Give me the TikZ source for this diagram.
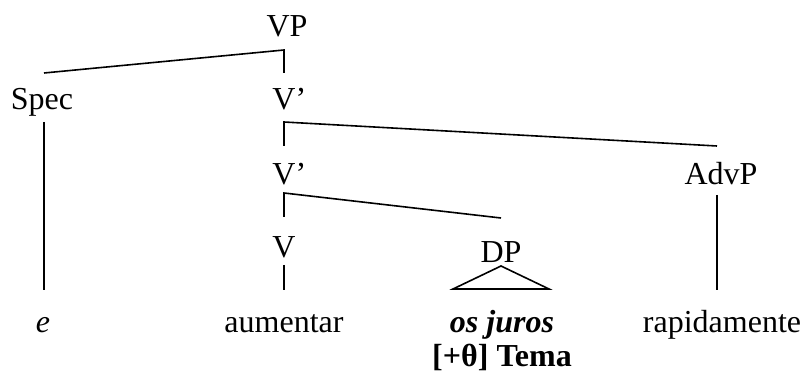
\documentclass[tikz,border=0pt]{standalone}
\usepackage{fontspec}
\setmainfont{Liberation Serif}
\begin{document}
\begin{tikzpicture}[x=1pt,y=-1pt,
  lbl/.style={anchor=base,inner sep=0pt,font=\fontsize{32}{38}\selectfont},
  edge/.style={line width=1.6pt,line cap=butt,line join=miter}]
\useasboundingbox (0,0) rectangle (809,374);
% nodes
\node[lbl] (VP) at (287,37) {VP};
\node[lbl] (Spec) at (42,110) {Spec};
\node[lbl] (V1) at (284,110) {V\rlap{’}};
\node[lbl] (V2) at (284,185) {V\rlap{’}};
\node[lbl] (AdvP) at (721,185) {AdvP};
\node[lbl] (V) at (284,258) {V};
\node[lbl] (DP) at (501,262) {DP};
\node[lbl] (e) at (43,332) {\itshape e};
\node[lbl] (aum) at (284,332) {aumentar};
\node[lbl] (juros) at (502,332) {\bfseries\itshape os juros};
\node[lbl] (tema) at (502,366) {\bfseries [+θ] Tema};
\node[lbl] (rap) at (722,332) {rapidamente};
% joints
\coordinate (VPj) at ([yshift=-13pt,xshift=-3pt]VP.base);
\coordinate (V1j) at ([yshift=-12pt]V1.base);
\coordinate (V2j) at ([yshift=-8pt]V2.base);
% tree edges
\draw[edge] ([yshift=37pt,xshift=2pt]Spec.base) -- (VPj) -- ([yshift=37pt]V1.base);
\draw[edge] ([yshift=39pt,xshift=-4pt]AdvP.base) -- (V1j) -- ([yshift=39pt]V2.base);
\draw[edge] ([yshift=44pt]DP.base) -- (V2j) -- ([yshift=41pt]V.base);
\draw[edge] ([yshift=-12pt,xshift=2pt]Spec.base) -- ([yshift=42pt,xshift=1pt]e.base);
\draw[edge] ([yshift=-10pt,xshift=-4pt]AdvP.base) -- ([yshift=42pt,xshift=-5pt]rap.base);
\draw[edge] ([yshift=-7pt]V.base) -- ([yshift=42pt]aum.base);
% triangle
\draw[edge] ([yshift=-4pt]DP.base) -- ([xshift=-48pt,yshift=-27pt]DP.base) -- ([xshift=48pt,yshift=-27pt]DP.base) -- cycle;
\end{tikzpicture}
\end{document}
